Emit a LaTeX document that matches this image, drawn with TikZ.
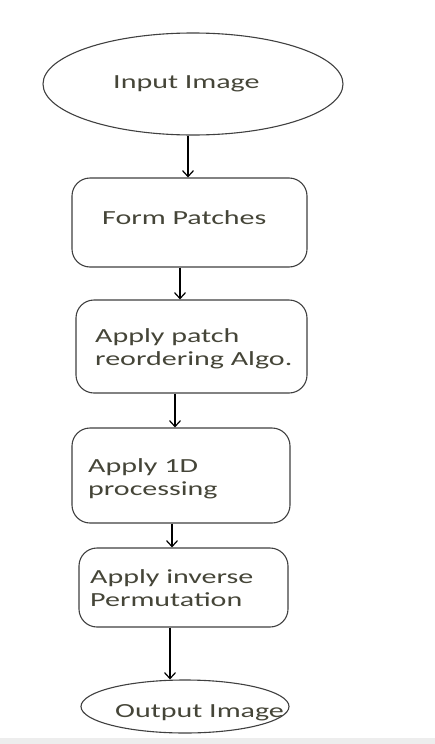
\documentclass[tikz,border=0pt]{standalone}
\usepackage{fontspec}
\setmainfont{Carlito}
\usetikzlibrary{shapes.geometric,arrows.meta}
\definecolor{txt}{rgb}{0.27,0.27,0.22}
\definecolor{edge}{rgb}{0.25,0.25,0.25}
\newcommand{\wtext}[1]{\scalebox{1.5}[1]{\begin{tabular}[t]{@{}l@{}}#1\end{tabular}}}
\begin{document}
\begin{tikzpicture}[x=1pt,y=-1pt,
  shapeline/.style={draw=edge,line width=1.1pt,inner sep=0pt},
  oval/.style={shapeline,ellipse},
  stepbox/.style={shapeline,rectangle,rounded corners=18pt},
  lbl/.style={anchor=base west,inner sep=0pt,text=txt,font=\fontsize{20}{23}\selectfont},
  arr/.style={draw=black,line width=1.3pt,-{Straight Barb[length=6pt,width=11pt,line width=1.2pt]}}]
\useasboundingbox (0,0) rectangle (435,744);
\fill[white] (0,0) rectangle (435,744);
\fill[black!7] (0,738) rectangle (435,744);
% shapes
\node[oval,minimum width=300pt,minimum height=102pt] (in) at (193,84) {};
\node[stepbox,minimum width=235pt,minimum height=89pt] (fp) at (189.5,222.5) {};
\node[stepbox,minimum width=231pt,minimum height=93pt] (ar) at (191.5,346.5) {};
\node[stepbox,minimum width=218pt,minimum height=95pt] (od) at (181,475.5) {};
\node[stepbox,minimum width=209pt,minimum height=79pt] (ip) at (183.5,587.5) {};
\node[oval,minimum width=208pt,minimum height=53pt] (out) at (185,706.5) {};
% labels
\node[lbl] (tin) at (113,88) {\wtext{Input Image}};
\node[lbl] (tfp) at (102,224) {\wtext{Form Patches}};
\node[lbl] (tar) at (95,342) {\wtext{Apply patch\\reordering Algo.}};
\node[lbl] (tod) at (88,472) {\wtext{Apply 1D\\processing}};
\node[lbl] (tip) at (90,583) {\wtext{Apply inverse\\Permutation}};
\node[lbl] (tout) at (115,717) {\wtext{Output Image}};
% arrow columns
\coordinate (c1) at (188,0);
\coordinate (c2) at (180,0);
\coordinate (c3) at (175,0);
\coordinate (c4) at (172,0);
\coordinate (c5) at (170,0);
\draw[arr] (in.south -| c1) -- (fp.north -| c1);
\draw[arr] (fp.south -| c2) -- (ar.north -| c2);
\draw[arr] (ar.south -| c3) -- (od.north -| c3);
\draw[arr] (od.south -| c4) -- (ip.north -| c4);
\draw[arr] (ip.south -| c5) -- (out.north -| c5);
\end{tikzpicture}
\end{document}
